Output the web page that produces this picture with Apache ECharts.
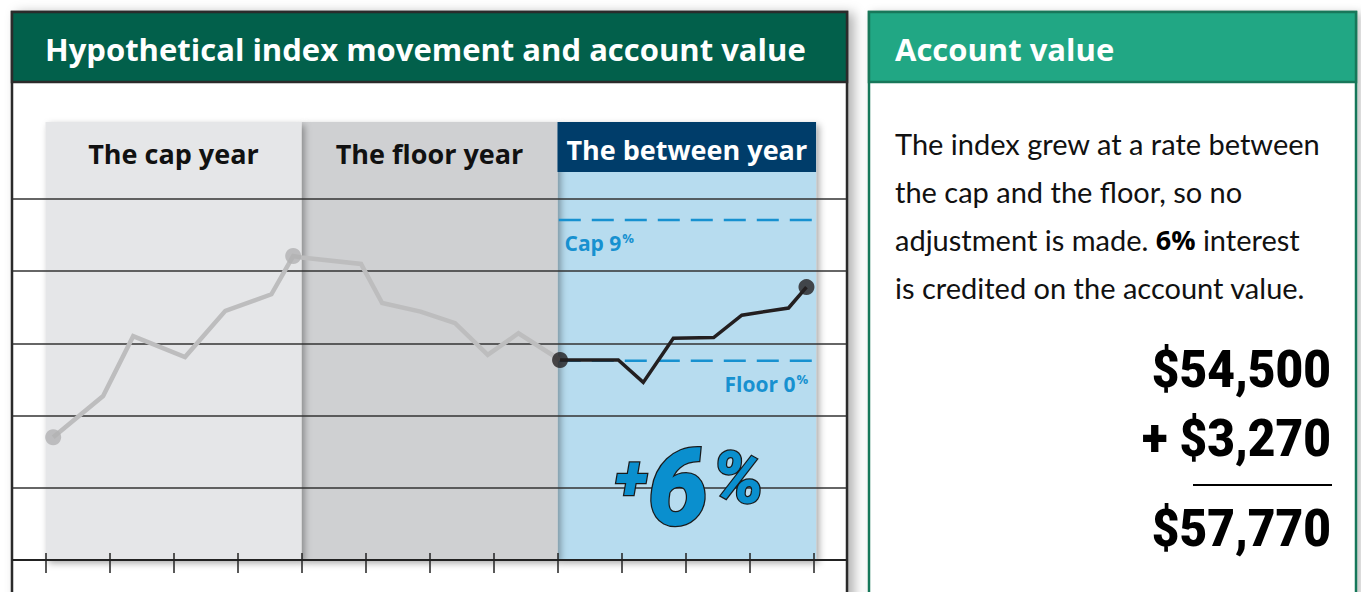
<!DOCTYPE html>
<html><head><meta charset="utf-8">
<script src="https://cdn.jsdelivr.net/npm/echarts@6/dist/echarts.min.js"></script>
<style>html,body{margin:0;padding:0;background:#fff;}#c{width:1361px;height:592px;}</style>
</head><body><div id="c"></div>
<script>
// ---- data ----
const bandNames = ['The cap year', 'The floor year', 'The between year'];
const bandStart = [0, 4, 8];
const bandEnd = [4, 8, 12.04];
const grayX = [0.12, 0.90, 1.37, 2.18, 2.81, 3.53, 3.87, 4.00, 4.93, 5.26, 5.86, 6.40, 6.91, 7.39, 8.04];
const grayY = [1.70, 2.27, 3.10, 2.81, 3.45, 3.68, 4.21, 4.19, 4.10, 3.56, 3.44, 3.28, 2.84, 3.14, 2.77];
const blackX = [8.04, 8.95, 9.34, 9.81, 10.44, 10.88, 11.61, 11.89];
const blackY = [2.77, 2.77, 2.46, 3.07, 3.08, 3.39, 3.49, 3.78];
const grayDotIdx = [0, 6];
const blackDotIdx = [0, 7];
const capLevel = 4.71;
const floorLevel = 2.76;
const capLabel = 'Cap 9';
const floorLabel = 'Floor 0';
const creditDigit = '6';
const accountLines = ['$54,500', '+ $3,270', '$57,770'];
const bodyLines = ['The index grew at a rate between', 'the cap and the floor, so no', 'adjustment is made. ', ' interest', 'is credited on the account value.'];
const boldRate = '6%';
const Y_MAX = 6.066;

// ---- styles ----
const bandFill = ['#e5e6e8', '#cfd0d2', '#b7dcef'];
const blue = '#1791d0';
const headFont = '"Open Sans", Lato, sans-serif';

const chart = echarts.init(document.getElementById('c'), null, {renderer: 'svg'});

const pair = (xs, ys) => xs.map((x, i) => [x, ys[i]]);
const grayData = pair(grayX, grayY);
const blackData = pair(blackX, blackY);

const option = {
  animation: false,
  backgroundColor: '#ffffff',
  grid: [
    {left: 13, right: 515, top: 199, bottom: 32},
    {left: 45.5, right: 547.5, top: 122, bottom: 32}
  ],
  xAxis: [
    {gridIndex: 0, type: 'value', min: 0, max: 1, z: 3,
     axisLine: {show: true, lineStyle: {color: '#222', width: 2}},
     axisTick: {show: false}, axisLabel: {show: false}, splitLine: {show: false}},
    {gridIndex: 1, type: 'value', min: 0, max: 12, interval: 1, z: 5, offset: -7,
     axisLine: {show: false},
     axisTick: {show: true, length: 20, lineStyle: {color: '#222', width: 1.5}},
     axisLabel: {show: false}, splitLine: {show: false}}
  ],
  yAxis: [
    {gridIndex: 0, type: 'value', min: 0, max: 5, interval: 1, z: 3,
     axisLine: {show: false}, axisTick: {show: false}, axisLabel: {show: false},
     splitLine: {show: true, lineStyle: {color: '#333', width: 1.5}}},
    {gridIndex: 1, type: 'value', min: 0, max: Y_MAX, show: false, splitLine: {show: false}}
  ],
  series: [
    {
      type: 'custom', xAxisIndex: 1, yAxisIndex: 1, z: 2,
      data: bandNames.map((n, i) => [bandStart[i], bandEnd[i], i]),
      renderItem: function (params, api) {
        const i = api.value(2);
        const p0 = api.coord([api.value(0), Y_MAX]);
        const p1 = api.coord([api.value(1), 0]);
        const children = [{
          type: 'rect', z2: 30 - i * 10,
          shape: {x: p0[0], y: p0[1], width: p1[0] - p0[0], height: p1[1] - p0[1]},
          style: {fill: bandFill[i], shadowBlur: 7, shadowColor: 'rgba(0,0,0,0.35)', shadowOffsetX: 3, shadowOffsetY: 3}
        }];
        const cx = (p0[0] + p1[0]) / 2;
        if (i === 2) {
          children.push({type: 'rect', z2: 40,
            shape: {x: p0[0], y: p0[1], width: p1[0] - p0[0], height: 50},
            style: {fill: '#003d6a'}});
        }
        children.push({type: 'text', z2: 50, x: cx, y: p0[1] + (i === 2 ? 27 : 31),
          style: {text: bandNames[i], fill: i === 2 ? '#ffffff' : '#111111',
            font: 'bold 27px ' + headFont, align: 'center', verticalAlign: 'middle'}});
        return {type: 'group', children: children};
      }
    },
    {
      type: 'line', xAxisIndex: 1, yAxisIndex: 1, z: 4, data: [[8.02, capLevel], [12.04, capLevel]],
      symbol: 'none', lineStyle: {color: blue, width: 2.5, type: [22, 11]}, silent: true
    },
    {
      type: 'line', xAxisIndex: 1, yAxisIndex: 1, z: 4, data: [[8.02, floorLevel], [12.04, floorLevel]],
      symbol: 'none', lineStyle: {color: blue, width: 2.5, type: [22, 11]}, silent: true
    },
    {
      type: 'line', xAxisIndex: 1, yAxisIndex: 1, z: 6, data: grayData,
      symbol: 'none', lineStyle: {color: '#bdbdbe', width: 4.5, join: 'miter'}
    },
    {
      type: 'scatter', xAxisIndex: 1, yAxisIndex: 1, z: 7, data: grayDotIdx.map(i => grayData[i]),
      symbolSize: 16, itemStyle: {color: '#b1b1b3'}
    },
    {
      type: 'line', xAxisIndex: 1, yAxisIndex: 1, z: 8, data: blackData,
      symbol: 'none', lineStyle: {color: '#231f20', width: 3.5, join: 'miter'}
    },
    {
      type: 'scatter', xAxisIndex: 1, yAxisIndex: 1, z: 9, data: blackDotIdx.map(i => blackData[i]),
      symbolSize: 16, itemStyle: {color: '#231f20'}
    }
  ]
};
chart.setOption(option);

// positions of cap/floor labels tied to the scales
const capP = chart.convertToPixel({xAxisIndex: 1, yAxisIndex: 1}, [8, capLevel]);
const floorP = chart.convertToPixel({xAxisIndex: 1, yAxisIndex: 1}, [11.9, floorLevel]);
const sixP = chart.convertToPixel({xAxisIndex: 1, yAxisIndex: 1}, [9.8, 1.0]);

const numFont = 'Roboto, "Liberation Sans", sans-serif';
const bodyFont = 'Lato, "Open Sans", sans-serif';
const bigStyle = (t) => ({text: t, fill: '#000', font: '900 52px ' + numFont, align: 'right', verticalAlign: 'middle'});
const plusTok = (size, pad) => ({fill: '#0a8fce', stroke: '#1a1a1a', lineWidth: 2.5, font: 'italic 900 ' + size + 'px ' + numFont,
  verticalAlign: 'middle', padding: pad});
const graphic = [
  // left panel
  {type: 'rect', z: 0, shape: {x: 12, y: 12, width: 835, height: 620},
   style: {fill: '#ffffff', stroke: '#2b2b2b', lineWidth: 2.5, shadowBlur: 12, shadowOffsetX: 6, shadowOffsetY: 2, shadowColor: 'rgba(0,0,0,0.3)'}},
  {type: 'rect', z: 10, shape: {x: 12, y: 12, width: 835, height: 70},
   style: {fill: '#02604b', stroke: '#2b2b2b', lineWidth: 2.5}},
  {type: 'text', z: 11, x: 45, y: 49,
   style: {text: 'Hypothetical index movement and account value', fill: '#ffffff',
     font: 'bold 31px ' + headFont, verticalAlign: 'middle'}},
  // right panel
  {type: 'rect', z: 0, shape: {x: 869, y: 12, width: 487, height: 620},
   style: {fill: '#ffffff', stroke: '#18775a', lineWidth: 2.5, shadowBlur: 8, shadowOffsetX: 4, shadowOffsetY: 2, shadowColor: 'rgba(0,0,0,0.25)'}},
  {type: 'rect', z: 10, shape: {x: 869, y: 12, width: 487, height: 70},
   style: {fill: '#21a784', stroke: '#18775a', lineWidth: 2.5}},
  {type: 'text', z: 11, x: 895, y: 49,
   style: {text: 'Account value', fill: '#ffffff', font: 'bold 31px ' + headFont, verticalAlign: 'middle'}},
  {type: 'text', z: 11, x: 895, y: 143,
   style: {text: bodyLines[0], fill: '#111', font: '29px ' + bodyFont, verticalAlign: 'middle'}},
  {type: 'text', z: 11, x: 895, y: 191,
   style: {text: bodyLines[1], fill: '#111', font: '29px ' + bodyFont, verticalAlign: 'middle'}},
  {type: 'text', z: 11, x: 895, y: 239,
   style: {text: '{n|' + bodyLines[2] + '}{b|' + boldRate + '}{n|' + bodyLines[3] + '}', verticalAlign: 'middle',
     rich: {n: {fill: '#111', font: '29px ' + bodyFont}, b: {fill: '#000', font: 'normal bold 27px "Open Sans", sans-serif'}}}},
  {type: 'text', z: 11, x: 895, y: 287,
   style: {text: bodyLines[4], fill: '#111', font: '29px ' + bodyFont, verticalAlign: 'middle'}},
  {type: 'text', z: 11, x: 1331, y: 369, scaleX: 0.92, style: bigStyle(accountLines[0])},
  {type: 'text', z: 11, x: 1331, y: 438, scaleX: 0.92, style: bigStyle(accountLines[1])},
  {type: 'line', z: 11, shape: {x1: 1193, y1: 485, x2: 1332, y2: 485}, style: {stroke: '#000', lineWidth: 2}},
  {type: 'text', z: 11, x: 1331, y: 528, scaleX: 0.92, style: bigStyle(accountLines[2])},
  // cap / floor labels
  {type: 'text', z: 20, x: capP[0] + 7, y: capP[1] + 23,
   style: {text: '{a|' + capLabel + '}{p|%}', verticalAlign: 'middle',
     rich: {a: {fill: blue, font: 'bold 21px ' + headFont}, p: {fill: blue, font: 'bold 13px ' + headFont, verticalAlign: 'top', padding: [0, 0, 10, 1]}}}},
  {type: 'text', z: 20, x: floorP[0] + 1, y: floorP[1] + 23,
   style: {text: '{a|' + floorLabel + '}{p|%}', align: 'right', verticalAlign: 'middle',
     rich: {a: {fill: blue, font: 'bold 21px ' + headFont}, p: {fill: blue, font: 'bold 13px ' + headFont, verticalAlign: 'top', padding: [0, 0, 10, 1]}}}},
  // +6%
  {type: 'text', z: 20, x: sixP[0] + 17, y: sixP[1],
   style: {text: '{a|+}{b|' + creditDigit + '}{c|%}', align: 'center', verticalAlign: 'middle',
     shadowBlur: 4, shadowColor: 'rgba(0,0,0,0.35)', shadowOffsetX: 2, shadowOffsetY: 2,
     rich: {a: plusTok(62, [0, 0, 18, 0]), b: plusTok(108, [0, 0, 0, 0]), c: plusTok(72, [0, 0, 18, 4])}}}
];
chart.setOption({graphic: graphic});
</script>
</body></html>
